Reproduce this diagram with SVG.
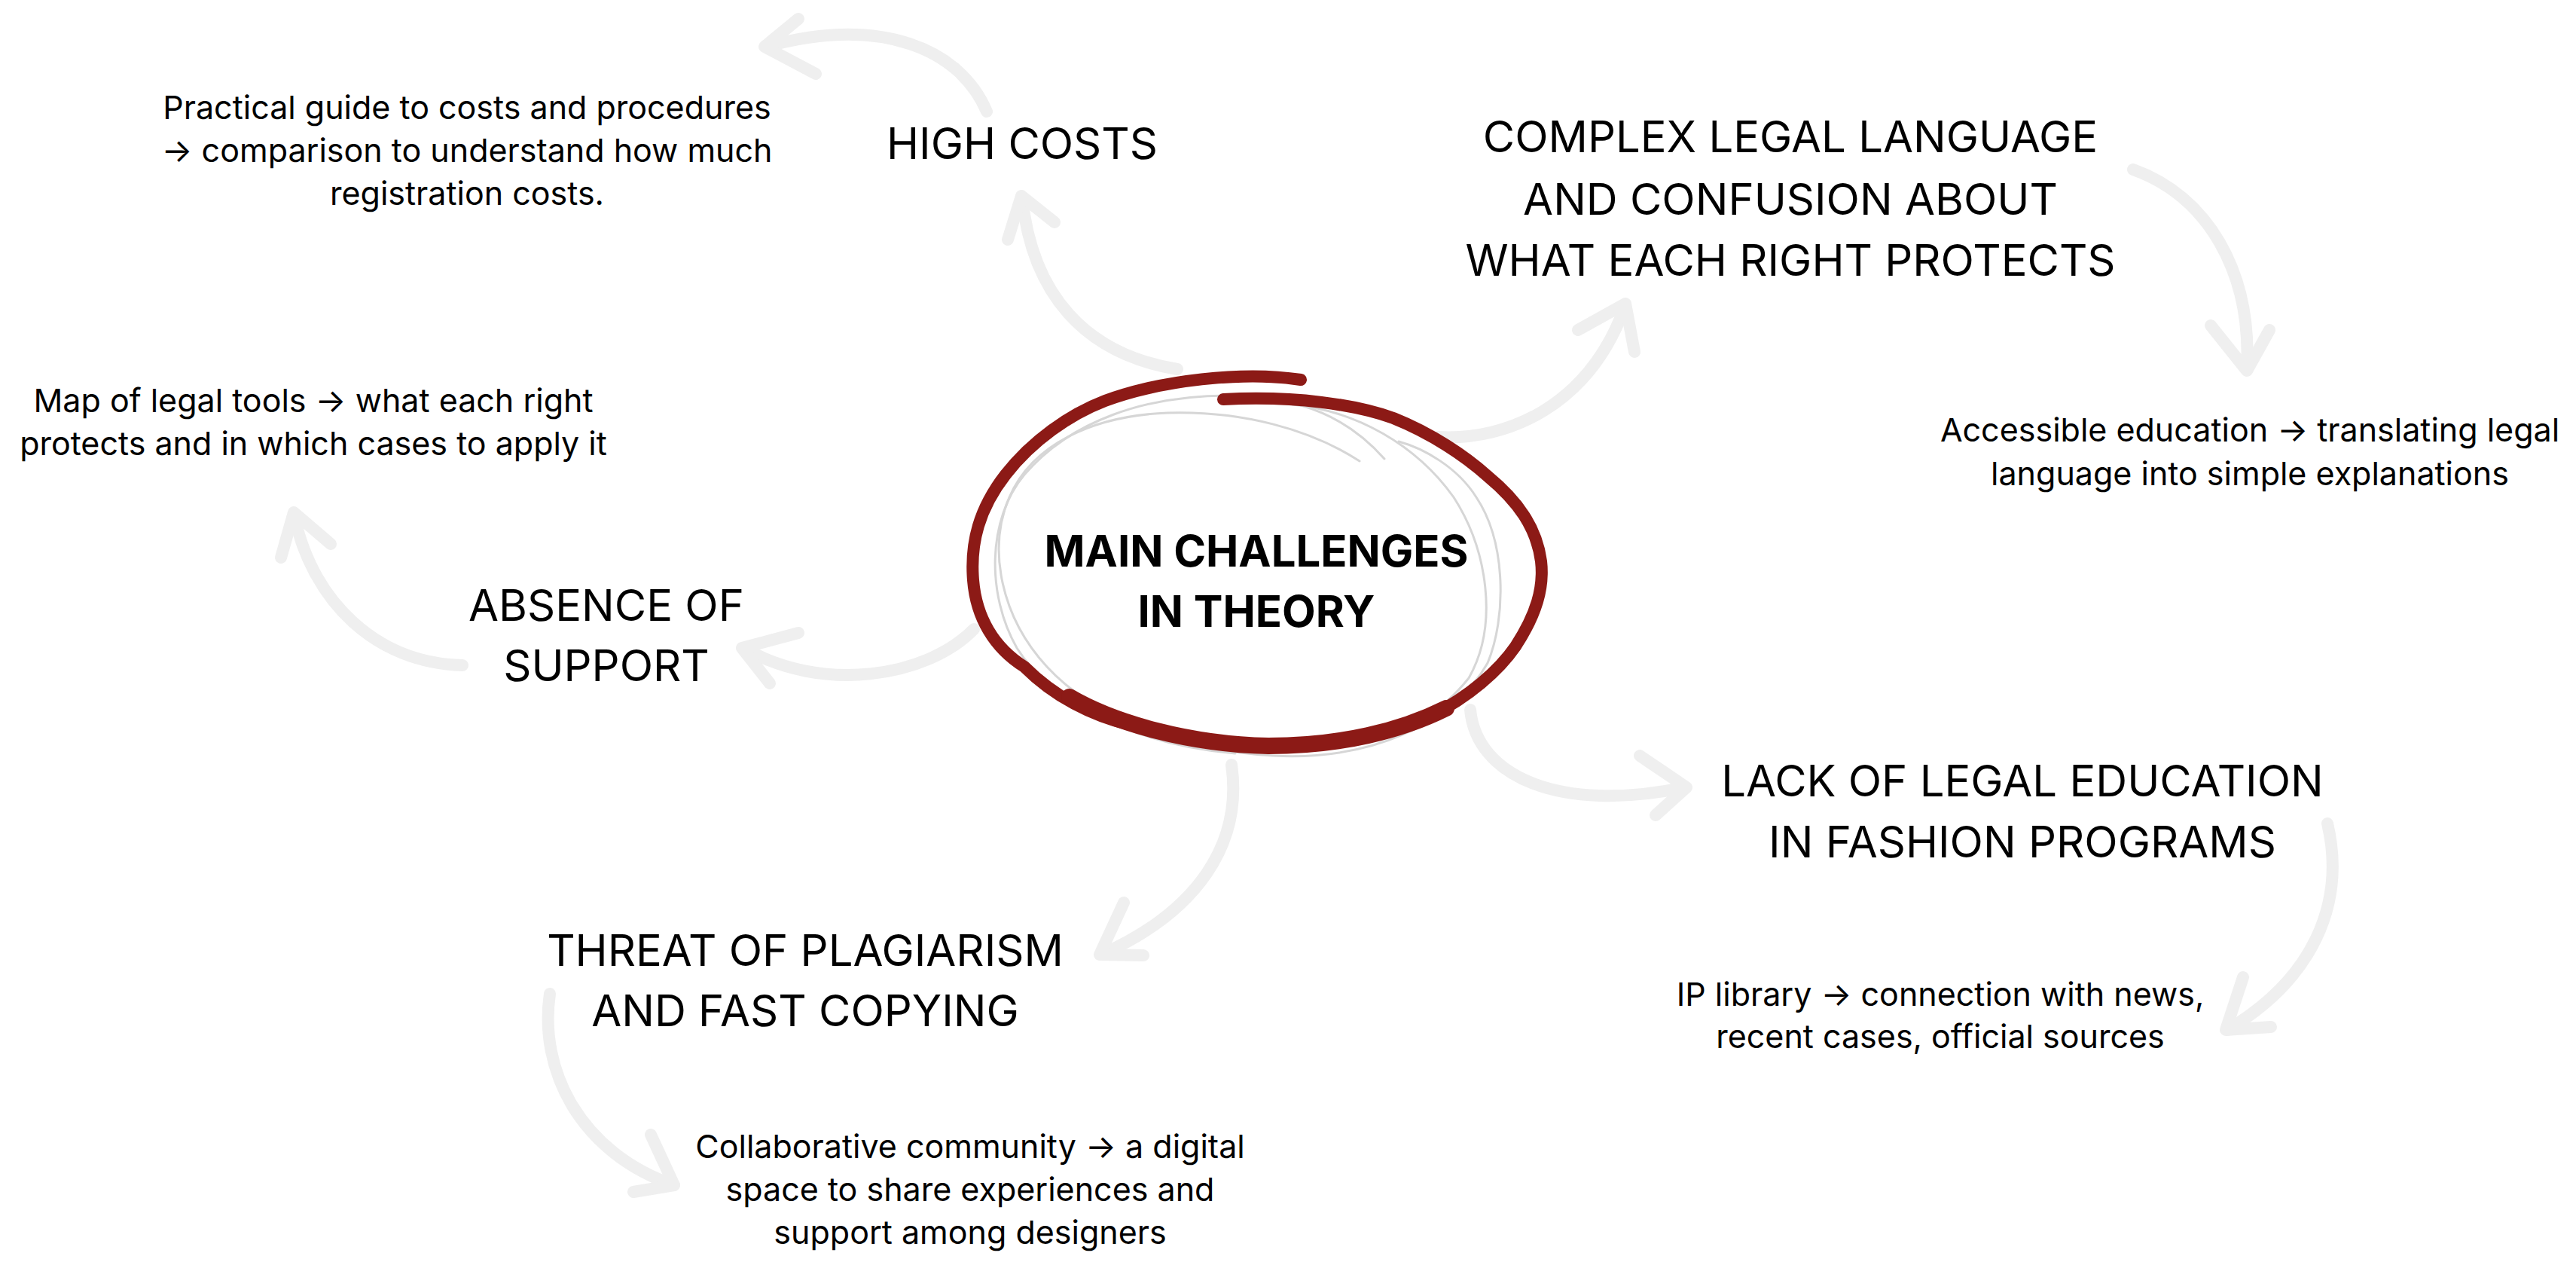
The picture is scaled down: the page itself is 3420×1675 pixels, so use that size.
<svg xmlns="http://www.w3.org/2000/svg" width="3420" height="1675" viewBox="0 0 3420 1675">
<style>
.bg{fill:#ffffff}
.shaft{fill:none;stroke:#efefef;stroke-width:16;stroke-linecap:round}
.head{fill:none;stroke:#efefef;stroke-width:16;stroke-linecap:round;stroke-linejoin:round}
.red{fill:none;stroke:#8c1a16;stroke-linecap:round;stroke-linejoin:round}
.sketch{fill:none;stroke:#d6d6d6;stroke-width:3;stroke-linecap:round}
.title{font-family:Inter,"Liberation Sans",sans-serif;font-weight:700;font-size:58px;fill:#000;text-anchor:middle}
.h{font-family:Inter,"Liberation Sans",sans-serif;font-weight:400;font-size:58px;fill:#000;text-anchor:middle}
.s{font-family:Inter,"Liberation Sans",sans-serif;font-weight:400;font-size:43px;fill:#000;text-anchor:middle}
</style>
<rect class="bg" x="0" y="0" width="3420" height="1675"/>
<g id="connectors">
  <path class="shaft" d="M 1563 490 C 1440 470 1370 390 1357 262"/>
  <path class="head" d="M 1338 318 L 1356 260 L 1400 295"/>
  <path class="shaft" d="M 1310 148 C 1275 65 1170 20 1017 62"/>
  <path class="head" d="M 1060 25 L 1015 62 L 1083 98"/>
  <path class="shaft" d="M 1910 580 C 2000 585 2110 540 2158 405"/>
  <path class="head" d="M 2095 438 L 2158 403 L 2170 467"/>
  <path class="shaft" d="M 2832 225 C 2930 260 2990 360 2983 490"/>
  <path class="head" d="M 2935 432 L 2983 492 L 3013 438"/>
  <path class="shaft" d="M 1952 942 C 1960 1030 2070 1080 2237 1045"/>
  <path class="head" d="M 2177 1003 L 2239 1045 L 2198 1082"/>
  <path class="shaft" d="M 3090 1093 C 3115 1200 3070 1300 2957 1367"/>
  <path class="head" d="M 2978 1297 L 2955 1367 L 3015 1363"/>
  <path class="shaft" d="M 1635 1015 C 1650 1120 1590 1210 1462 1267"/>
  <path class="head" d="M 1492 1198 L 1460 1267 L 1518 1268"/>
  <path class="shaft" d="M 730 1319 C 715 1420 770 1530 895 1573"/>
  <path class="head" d="M 864 1506 L 895 1573 L 841 1582"/>
  <path class="shaft" d="M 1293 835 C 1230 900 1090 920 987 860"/>
  <path class="head" d="M 1060 840 L 985 860 L 1022 907"/>
  <path class="shaft" d="M 614 883 C 500 880 415 800 390 682"/>
  <path class="head" d="M 439 722 L 390 680 L 373 740"/>
</g>
<g id="center">
  <path class="sketch" d="M 1805 612 C 1740 570 1650 545 1550 548 C 1450 552 1370 590 1340 660 C 1310 730 1330 820 1390 885 C 1450 950 1560 995 1690 1003 C 1820 1010 1930 960 1975 880 C 2000 820 2000 720 1960 660 C 1935 620 1890 595 1857 586"/>
  <path class="sketch" d="M 1838 609 C 1790 555 1730 528 1640 525 C 1520 523 1420 560 1360 630 C 1310 690 1310 790 1350 860 C 1400 940 1520 990 1640 1000"/>
  <path class="sketch" d="M 1716 537 C 1800 545 1880 590 1930 660 C 1975 730 1990 830 1950 900 C 1910 950 1870 965 1846 968"/>
  <path class="red" stroke-width="16" d="M 1727 504 C 1650 492 1540 505 1467 532 C 1420 550 1370 585 1335 630 C 1300 675 1288 720 1292 770 C 1296 820 1320 860 1360 885 C 1400 925 1450 950 1500 962 C 1560 980 1620 990 1684 990 C 1760 990 1840 975 1900 950 C 1950 925 1990 890 2012 858 C 2040 815 2050 780 2046 745 C 2040 700 2015 665 1975 632 C 1945 605 1900 575 1850 555 C 1800 537 1720 525 1624 530"/>
  <path class="red" stroke-width="22" d="M 1420 925 C 1480 960 1580 988 1684 990 C 1780 990 1860 970 1920 940"/>
  <text class="title" x="1668" y="752">MAIN CHALLENGES</text>
  <text class="title" x="1668" y="832">IN THEORY</text>
</g>
<g id="high-costs">
  <text class="h" x="1357" y="211">HIGH COSTS</text>
</g>
<g id="practical-guide">
  <text class="s" x="620" y="158">Practical guide to costs and procedures</text>
  <text class="s" x="620" y="215">→ comparison to understand how much</text>
  <text class="s" x="620" y="272">registration costs.</text>
</g>
<g id="complex-legal-language">
  <text class="h" x="2377" y="202">COMPLEX LEGAL LANGUAGE</text>
  <text class="h" x="2377" y="285">AND CONFUSION ABOUT</text>
  <text class="h" x="2377" y="366">WHAT EACH RIGHT PROTECTS</text>
</g>
<g id="accessible-education">
  <text class="s" x="2987" y="586">Accessible education → translating legal</text>
  <text class="s" x="2987" y="644">language into simple explanations</text>
</g>
<g id="absence-of-support">
  <text class="h" x="805" y="824">ABSENCE OF</text>
  <text class="h" x="805" y="904">SUPPORT</text>
</g>
<g id="map-of-legal-tools">
  <text class="s" x="416" y="547">Map of legal tools → what each right</text>
  <text class="s" x="416" y="604">protects and in which cases to apply it</text>
</g>
<g id="lack-of-legal-education">
  <text class="h" x="2685" y="1057">LACK OF LEGAL EDUCATION</text>
  <text class="h" x="2685" y="1138">IN FASHION PROGRAMS</text>
</g>
<g id="ip-library">
  <text class="s" x="2576" y="1335">IP library → connection with news,</text>
  <text class="s" x="2576" y="1391">recent cases, official sources</text>
</g>
<g id="threat-of-plagiarism">
  <text class="h" x="1069" y="1282">THREAT OF PLAGIARISM</text>
  <text class="h" x="1069" y="1362">AND FAST COPYING</text>
</g>
<g id="collaborative-community">
  <text class="s" x="1288" y="1537">Collaborative community → a digital</text>
  <text class="s" x="1288" y="1594">space to share experiences and</text>
  <text class="s" x="1288" y="1651">support among designers</text>
</g>
</svg>
